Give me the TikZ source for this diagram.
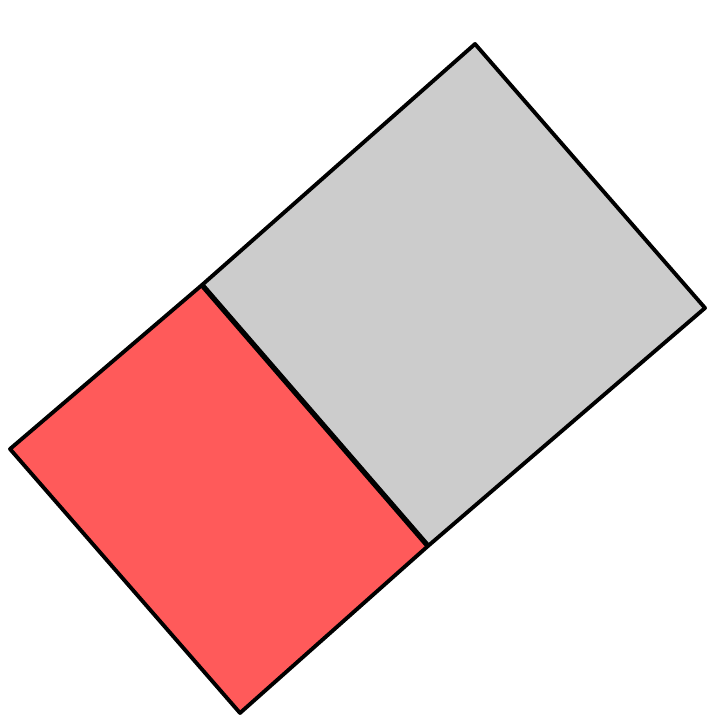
\documentclass[tikz,border=0pt]{standalone}
\definecolor{partred}{RGB}{255,90,90}
\definecolor{partgray}{RGB}{204,204,204}
\tikzset{part/.style={draw=black,line width=1.1pt,line join=round}}
\begin{document}
\begin{tikzpicture}
\useasboundingbox (0,0) rectangle (7.2,7.2);
\coordinate (left) at (0.10,2.71);
\coordinate (splittop) at (2.02,4.35);
\coordinate (top) at (4.75,6.76);
\coordinate (right) at (7.05,4.12);
\coordinate (splitbot) at (4.28,1.74);
\coordinate (bottom) at (2.40,0.07);
% gray part
\filldraw[part,fill=partgray] (splittop) -- (top) -- (right) -- (splitbot) -- cycle;
% red part
\filldraw[part,fill=partred] (left) -- (splittop) -- (splitbot) -- (bottom) -- cycle;
\draw[line width=1.5pt] (splittop) -- (splitbot);
\end{tikzpicture}
\end{document}
